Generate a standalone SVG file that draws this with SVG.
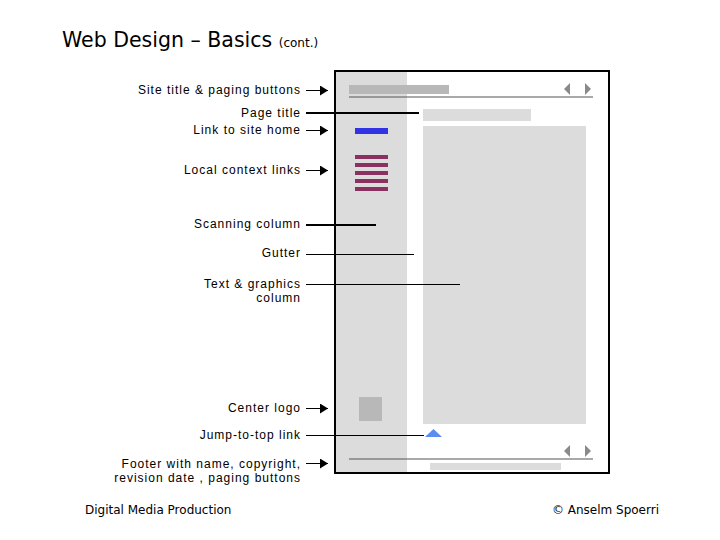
<svg xmlns="http://www.w3.org/2000/svg" width="720" height="540" viewBox="0 0 720 540">
<style>
.lbl{font-family:"Liberation Sans",Arial,sans-serif;font-size:12px;letter-spacing:1px;fill:#000;text-anchor:end}
.ln{stroke:#000;stroke-width:1;fill:none}
.thk{stroke:#000;stroke-width:2;fill:none}
.gray{fill:#dcdcdc}
.mid{fill:#b8b8b8}
.pur{fill:#8b3162}
.pag{fill:#8a8a8a}
.ft{font-family:"DejaVu Sans",Verdana,sans-serif;font-size:12px;fill:#000}
</style>
<defs>
<marker id="ah" viewBox="0 0 8 10" refX="8" refY="5" markerWidth="8" markerHeight="10" markerUnits="userSpaceOnUse" orient="auto">
<path d="M0,0 L8,5 L0,10 Z" fill="#000"/>
</marker>
</defs>
<rect width="720" height="540" fill="#fff"/>
<text x="62" y="47" font-family="DejaVu Sans,Verdana,sans-serif" font-size="20.5" fill="#000">Web Design – Basics <tspan font-size="12">(cont.)</tspan></text>

<g id="page">
<rect x="335" y="71" width="274" height="402" fill="#fff" stroke="#000" stroke-width="2"/>
<rect x="336" y="72" width="71" height="400" class="gray"/>
</g>
<g id="site-title">
<rect x="349" y="85" width="100" height="9" class="mid"/>
<line x1="349" y1="97" x2="593" y2="97" stroke="#555" stroke-width="1.2"/>
<path d="M564,89 L570,83 L570,95 Z" class="pag"/>
<path d="M591,89 L585,83 L585,95 Z" class="pag"/>
</g>
<g id="page-title"><rect x="423" y="109" width="108" height="12" class="gray"/></g>
<g id="home-link"><rect x="355" y="128" width="33" height="6" fill="#3333e6"/></g>
<g id="local-links">
<rect x="355" y="155" width="33" height="4" class="pur"/>
<rect x="355" y="163" width="33" height="4" class="pur"/>
<rect x="355" y="171" width="33" height="4" class="pur"/>
<rect x="355" y="179" width="33" height="4" class="pur"/>
<rect x="355" y="187" width="33" height="4" class="pur"/>
</g>
<g id="content"><rect x="423" y="126" width="163" height="298" class="gray"/></g>
<g id="logo"><rect x="359" y="397" width="23" height="24" class="mid"/></g>
<g id="jump-top"><path d="M425,437 L433.5,429 L442,437 Z" fill="#5b8def"/></g>
<g id="footer">
<path d="M564,451 L570,445 L570,457 Z" class="pag"/>
<path d="M591,451 L585,445 L585,457 Z" class="pag"/>
<line x1="349" y1="459" x2="593" y2="459" stroke="#555" stroke-width="1.2"/>
<rect x="430" y="463" width="131" height="7" class="gray"/>
</g>

<g id="labels">
<text class="lbl" x="301" y="94">Site title &amp; paging buttons</text>
<text class="lbl" x="301" y="117">Page title</text>
<text class="lbl" x="301" y="134">Link to site home</text>
<text class="lbl" x="301" y="174">Local context links</text>
<text class="lbl" x="301" y="228">Scanning  column</text>
<text class="lbl" x="301" y="257">Gutter</text>
<text class="lbl" x="301" y="288">Text  &amp; graphics</text>
<text class="lbl" x="301" y="302">column</text>
<text class="lbl" x="301" y="412">Center logo</text>
<text class="lbl" x="301" y="439">Jump-to-top link</text>
<text class="lbl" x="301" y="468">Footer with name, copyright,</text>
<text class="lbl" x="301" y="482">revision date , paging buttons</text>
</g>

<g id="connectors">
<line class="ln" x1="306" y1="90.5" x2="328" y2="90.5" marker-end="url(#ah)"/>
<line class="thk" x1="306" y1="113" x2="419" y2="113"/>
<line class="ln" x1="306" y1="130.5" x2="328" y2="130.5" marker-end="url(#ah)"/>
<line class="ln" x1="306" y1="170.5" x2="328" y2="170.5" marker-end="url(#ah)"/>
<line class="thk" x1="306" y1="225" x2="376" y2="225"/>
<line class="ln" x1="306" y1="254.5" x2="414" y2="254.5"/>
<line class="ln" x1="306" y1="284.5" x2="460" y2="284.5"/>
<line class="ln" x1="306" y1="408.5" x2="328" y2="408.5" marker-end="url(#ah)"/>
<line class="ln" x1="306" y1="435.5" x2="424" y2="435.5"/>
<line class="ln" x1="306" y1="463.5" x2="328" y2="463.5" marker-end="url(#ah)"/>
</g>

<text class="ft" x="85" y="514">Digital Media Production</text>
<text class="ft" x="659" y="514" text-anchor="end">© Anselm Spoerri</text>
</svg>
